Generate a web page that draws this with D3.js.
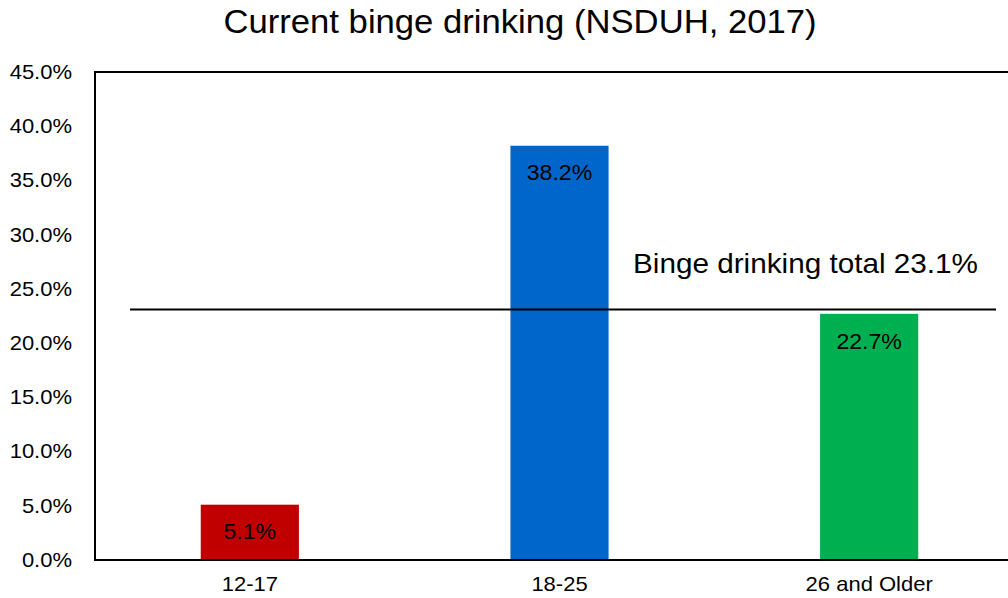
<!DOCTYPE html>
<html>
<head>
<meta charset="utf-8">
<script src="https://cdn.jsdelivr.net/npm/d3@7"></script>
<style>
  html, body { margin: 0; padding: 0; background: #fff; }
  svg { display: block; font-family: "Liberation Sans", Arial, sans-serif; }
</style>
</head>
<body>
<svg id="chart" width="1008" height="598"></svg>
<script>
// Current binge drinking by age group, NSDUH 2017
const categories = ["12-17", "18-25", "26 and Older"];
const values = [5.1, 38.2, 22.7];
const barColors = ["#C00000", "#0066CC", "#00B050"];
const totalValue = 23.1;
const totalLabel = "Binge drinking total 23.1%";
const yTicks = [0, 5, 10, 15, 20, 25, 30, 35, 40, 45];
const title = "Current binge drinking (NSDUH, 2017)";

const svg = d3.select("#chart");
const plotLeft = 95, plotRight = 1024, plotTop = 72, plotBottom = 560;
const FONT = "Liberation Sans, Arial, sans-serif";
// text in this chart is set slightly wide
const wide = 1.1;

const x = d3.scaleBand()
  .domain(categories)
  .range([plotLeft, plotRight])
  .paddingInner(0.683)
  .paddingOuter(0.3415);

const y = d3.scaleLinear().domain([0, 45]).range([plotBottom, plotTop]);

// title
svg.append("text")
  .attr("transform", "translate(520,33) scale(1.05,1)")
  .attr("text-anchor", "middle")
  .attr("font-size", 33)
  .attr("fill", "#000")
  .text(title);

// bars
svg.selectAll("rect.bar")
  .data(values)
  .join("rect")
  .attr("class", "bar")
  .attr("x", (d, i) => x(categories[i]))
  .attr("width", x.bandwidth())
  .attr("y", d => y(d))
  .attr("height", d => y(0) - y(d))
  .attr("fill", (d, i) => barColors[i]);

// value labels inside bars
svg.selectAll("text.val")
  .data(values)
  .join("text")
  .attr("class", "val")
  .attr("transform", (d, i) =>
    `translate(${x(categories[i]) + x.bandwidth() / 2},${y(d) + 27}) scale(1.05,1)`)
  .attr("dy", "0.35em")
  .attr("text-anchor", "middle")
  .attr("font-size", 22)
  .attr("fill", "#000")
  .text(d => d.toFixed(1) + "%");

// y axis
const yAxis = d3.axisLeft(y)
  .tickValues(yTicks)
  .tickSize(0)
  .tickPadding(23)
  .tickFormat(d => d.toFixed(1) + "%");
const gy = svg.append("g").attr("transform", `translate(${plotLeft},0)`).call(yAxis);
gy.select(".domain").remove();
gy.selectAll("text")
  .attr("font-size", 20).attr("fill", "#000").attr("font-family", FONT)
  .attr("x", -23 / wide)
  .attr("transform", `scale(${wide},1)`);

// x axis
const xAxis = d3.axisBottom(x).tickSize(0).tickPadding(17);
const gx = svg.append("g").attr("transform", `translate(0,${plotBottom})`).call(xAxis);
gx.select(".domain").remove();
gx.selectAll("text")
  .attr("font-size", 20).attr("fill", "#000").attr("font-family", FONT)
  .attr("transform", `scale(${wide},1)`);

// plot frame: left, top, bottom
svg.append("path")
  .attr("d", `M${1008},${plotTop}H${plotLeft}V${plotBottom}H${1008}`)
  .attr("fill", "none")
  .attr("stroke", "#000")
  .attr("stroke-width", 2);

// total reference line
svg.append("line")
  .attr("x1", 130).attr("x2", 996)
  .attr("y1", y(totalValue)).attr("y2", y(totalValue))
  .attr("stroke", "#000").attr("stroke-width", 2);

svg.append("text")
  .attr("transform", `translate(633,273) scale(${wide},1)`)
  .attr("font-size", 27)
  .attr("fill", "#000")
  .text(totalLabel);
</script>
</body>
</html>
